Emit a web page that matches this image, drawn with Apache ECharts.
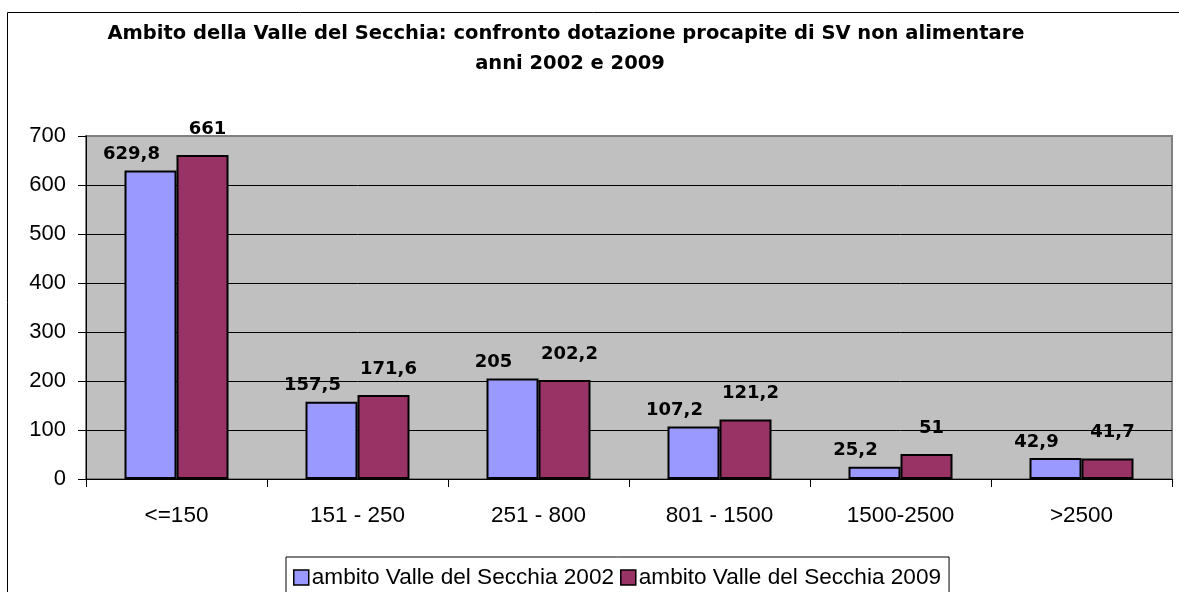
<!DOCTYPE html>
<html>
<head>
<meta charset="utf-8">
<script src="https://cdn.jsdelivr.net/npm/echarts@6/dist/echarts.min.js"></script>
<style>
	html, body { margin: 0; padding: 0; background: #fff; }
	#chart { width: 1179px; height: 592px; }
</style>
</head>
<body>
<div id="chart"></div>
<script>
	// dati
	var categories = ['<=150', '151 - 250', '251 - 800', '801 - 1500', '1500-2500', '>2500'];
	var values2002 = [629.8, 157.5, 205, 107.2, 25.2, 42.9];
	var values2009 = [661, 171.6, 202.2, 121.2, 51, 41.7];
	var seriesNames = ['ambito Valle del Secchia 2002', 'ambito Valle del Secchia 2009'];
	var titleLines = ['Ambito della Valle del Secchia: confronto dotazione procapite di SV non alimentare', 'anni 2002 e 2009'];

	var myChart = echarts.init(document.getElementById('chart'));

	function commaLabel(p) {
		return String(p.value).replace('.', ',');
	}

	var titleFont = { fontFamily: 'DejaVu Sans', fontWeight: 'bold', fontSize: 19.5, color: '#000' };
	var labelFont = { fontFamily: 'DejaVu Sans', fontWeight: 'bold', fontSize: 18, color: '#000' };

	myChart.setOption({
		animation: false,
		textStyle: { fontFamily: 'Liberation Sans' },
		title: [
			{ text: titleLines[0], left: 566, top: 24, textAlign: 'center', padding: 0, textStyle: titleFont },
			{ text: titleLines[1], left: 570, top: 54, textAlign: 'center', padding: 0, textStyle: titleFont }
		],
		// cornice del grafico
		graphic: [{
			type: 'rect',
			shape: { x: 7.5, y: 12.5, width: 1300, height: 700 },
			style: { fill: 'none', stroke: '#000', lineWidth: 1 },
			silent: true
		}],
		legend: {
			left: 286,
			top: 557,
			padding: [9, 8, 9, 7],
			itemWidth: 15,
			itemHeight: 15,
			itemGap: 6,
			borderColor: '#000',
			borderWidth: 1,
			icon: 'rect',
			itemStyle: { borderColor: '#000', borderWidth: 1.5 },
			textStyle: { fontFamily: 'Liberation Sans', fontSize: 22.6, color: '#000', padding: [0, 0, 0, -2] },
			data: seriesNames
		},
		grid: {
			left: 86,
			right: 7,
			top: 136,
			bottom: 113,
			show: true,
			backgroundColor: '#C0C0C0',
			borderColor: '#808080',
			borderWidth: 2
		},
		xAxis: {
			type: 'category',
			data: categories,
			boundaryGap: true,
			axisLine: { lineStyle: { color: '#000', width: 1 } },
			axisTick: { show: true, length: 8, lineStyle: { color: '#000' } },
			axisLabel: { fontSize: 22.5, color: '#000', margin: 25, interval: 0 }
		},
		yAxis: {
			type: 'value',
			min: 0,
			max: 700,
			interval: 100,
			axisLine: { show: true, lineStyle: { color: '#000', width: 1 } },
			axisTick: { show: true, length: 8, lineStyle: { color: '#000' } },
			axisLabel: { fontSize: 22, color: '#000', margin: 20 },
			splitLine: {
				show: true,
				lineStyle: { color: ['#000', '#000', '#000', '#000', '#000', '#000', '#000', '#808080'], width: 1 }
			}
		},
		series: [{
			name: seriesNames[0],
			type: 'bar',
			barWidth: 52,
			barGap: '0%',
			data: values2002,
			itemStyle: { color: '#9999FF', borderColor: '#000', borderWidth: 2 },
			label: { show: true, position: 'top', distance: 5, offset: [-19, -2], formatter: commaLabel, ...labelFont }
		}, {
			name: seriesNames[1],
			type: 'bar',
			barWidth: 52,
			barGap: '0%',
			data: values2009,
			itemStyle: { color: '#993366', borderColor: '#000', borderWidth: 2 },
			label: { show: true, position: 'top', distance: 5, offset: [5, -12], formatter: commaLabel, ...labelFont }
		}]
	});
</script>
</body>
</html>
